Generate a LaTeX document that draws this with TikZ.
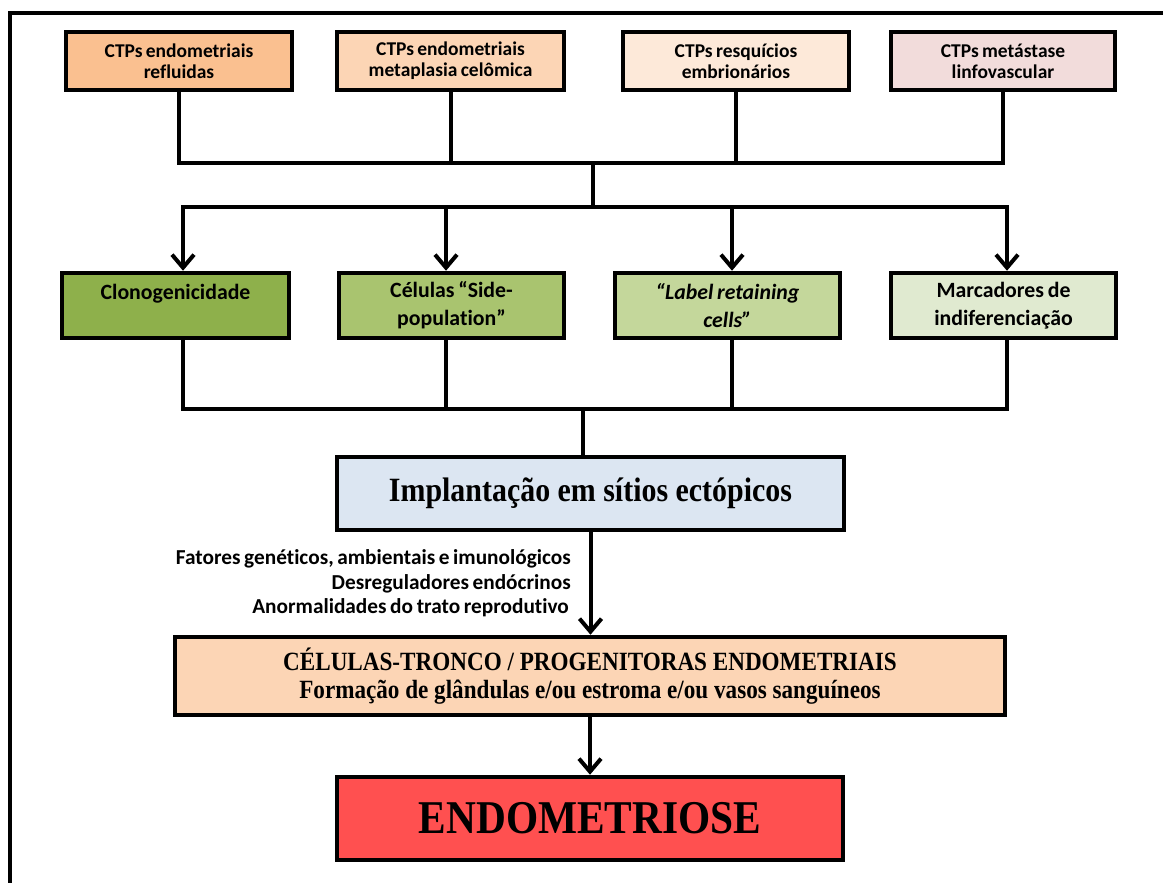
\documentclass[tikz,border=0pt]{standalone}
\usepackage{fontspec}
\setmainfont{Liberation Serif}
\newfontfamily\calfont[WordSpace=0.75,Ligatures=NoCommon]{Carlito}
\newfontfamily\tnrfont[FakeStretch=0.88]{Liberation Serif}
\usetikzlibrary{arrows.meta}
\definecolor{orA}{HTML}{FAC090}
\definecolor{orB}{HTML}{FCD5B5}
\definecolor{orC}{HTML}{FDE9D9}
\definecolor{pkA}{HTML}{F2DCDB}
\definecolor{grA}{HTML}{8EB04B}
\definecolor{grB}{HTML}{A9C46F}
\definecolor{grC}{HTML}{C4D79B}
\definecolor{grD}{HTML}{E0EAD0}
\definecolor{blA}{HTML}{DCE6F2}
\definecolor{rdA}{HTML}{FF5050}
\begin{document}
\begin{tikzpicture}[x=1pt,y=-1pt,
  tbox/.style={draw, line width=4.5pt, minimum height=58pt, inner sep=0pt, align=center,
    font=\calfont\bfseries\fontsize{19.5}{21}\selectfont},
  mbox/.style={draw, line width=4.5pt, minimum height=65pt, inner sep=0pt, align=center,
    font=\calfont\bfseries\fontsize{21.8}{28}\selectfont},
  bbox/.style={draw, line width=4.5pt, inner sep=0pt, align=center},
  conn/.style={line width=4pt},
  arr/.style={line width=4pt, -{Straight Barb[length=13pt,width=22pt,line width=4pt]}},
  lbl/.style={anchor=base east, inner sep=0pt, font=\calfont\bfseries\fontsize{21.3}{24}\selectfont}]
\useasboundingbox (0,0) rectangle (1163,883);
\clip (0,0) rectangle (1163,883);
\fill[white] (0,0) rectangle (1163,883);
\draw[line width=4pt] (10,900) -- (10,13) -- (1190,13);

% top row
\node[tbox, fill=orA, minimum width=226pt] (t1) at (179,61) {CTPs endometriais\\refluidas};
\node[tbox, fill=orB, minimum width=227pt] (t2) at (450.5,61) {CTPs endometriais\\metaplasia celômica};
\node[tbox, fill=orC, minimum width=226pt] (t3) at (736,61) {CTPs resquícios\\embrionários};
\node[tbox, fill=pkA, minimum width=224pt] (t4) at (1003,61) {CTPs metástase\\linfovascular};

% middle row
\node[mbox, fill=grA, minimum width=227pt] (m1) at (175.5,305.5) {Clonogenicidade\\\mbox{}};
\node[mbox, fill=grB, minimum width=225pt] (m2) at (451.5,305.5) {Células “Side-\\population”};
\node[mbox, fill=grC, minimum width=225pt] (m3) at (727.5,305.5) {\itshape “Label retaining\\\itshape cells”};
\node[mbox, fill=grD, minimum width=225pt] (m4) at (1003.5,305.5) {Marcadores de\\indiferenciação};

% lower boxes
\node[bbox, fill=blA, minimum width=507pt, minimum height=73pt,
  font=\tnrfont\bfseries\fontsize{34}{36}\selectfont] (imp) at (590.5,493.5) {Implantação em sítios ectópicos};
\node[bbox, fill=orB, minimum width=830pt, minimum height=78pt,
  font=\tnrfont\bfseries\fontsize{26.3}{28}\selectfont] (cel) at (590,676)
  {CÉLULAS-TRONCO / PROGENITORAS ENDOMETRIAIS\\Formação de glândulas e/ou estroma e/ou vasos sanguíneos};
\node[bbox, fill=rdA, minimum width=506pt, minimum height=83pt,
  font=\tnrfont\bfseries\fontsize{47}{50}\selectfont] (endo) at (590,818.5) {ENDOMETRIOSE};

% coordinates
\coordinate (h1) at (593,163);
\coordinate (h2) at (593,207);
\coordinate (a1) at (183,207);
\coordinate (a2) at (446,207);
\coordinate (a3) at (732,207);
\coordinate (a4) at (1007,207);
\coordinate (h3) at (583,409);

% top connectors
\draw[conn] (t1.south) |- (h1) -| (t4.south);
\draw[conn] (t2.south) -- (t2.south |- h1);
\draw[conn] (t3.south) -- (t3.south |- h1);
\draw[conn] (h1) -- (h2);
\draw[arr] (h2) -| (a1 |- m1.north);
\draw[arr] (h2) -| (a4 |- m4.north);
\draw[arr] (a2) -- (a2 |- m2.north);
\draw[arr] (a3) -- (a3 |- m3.north);

% middle connectors
\draw[conn] (a1 |- m1.south) |- (h3) -| (a4 |- m4.south);
\draw[conn] (a2 |- m2.south) -- (a2 |- h3);
\draw[conn] (a3 |- m3.south) -- (a3 |- h3);
\draw[conn] (h3) -- (h3 |- imp.north);

% lower connectors
\draw[arr] (imp.south) -- (imp.south |- cel.north);
\draw[arr] (cel.south) -- (endo.north);

\node[lbl] (f1) at (571,564) {Fatores genéticos, ambientais e imunológicos};
\node[lbl] (f2) at (571,589) {Desreguladores endócrinos};
\node[lbl] (f3) at (569,613) {Anormalidades do trato reprodutivo};
\end{tikzpicture}
\end{document}
